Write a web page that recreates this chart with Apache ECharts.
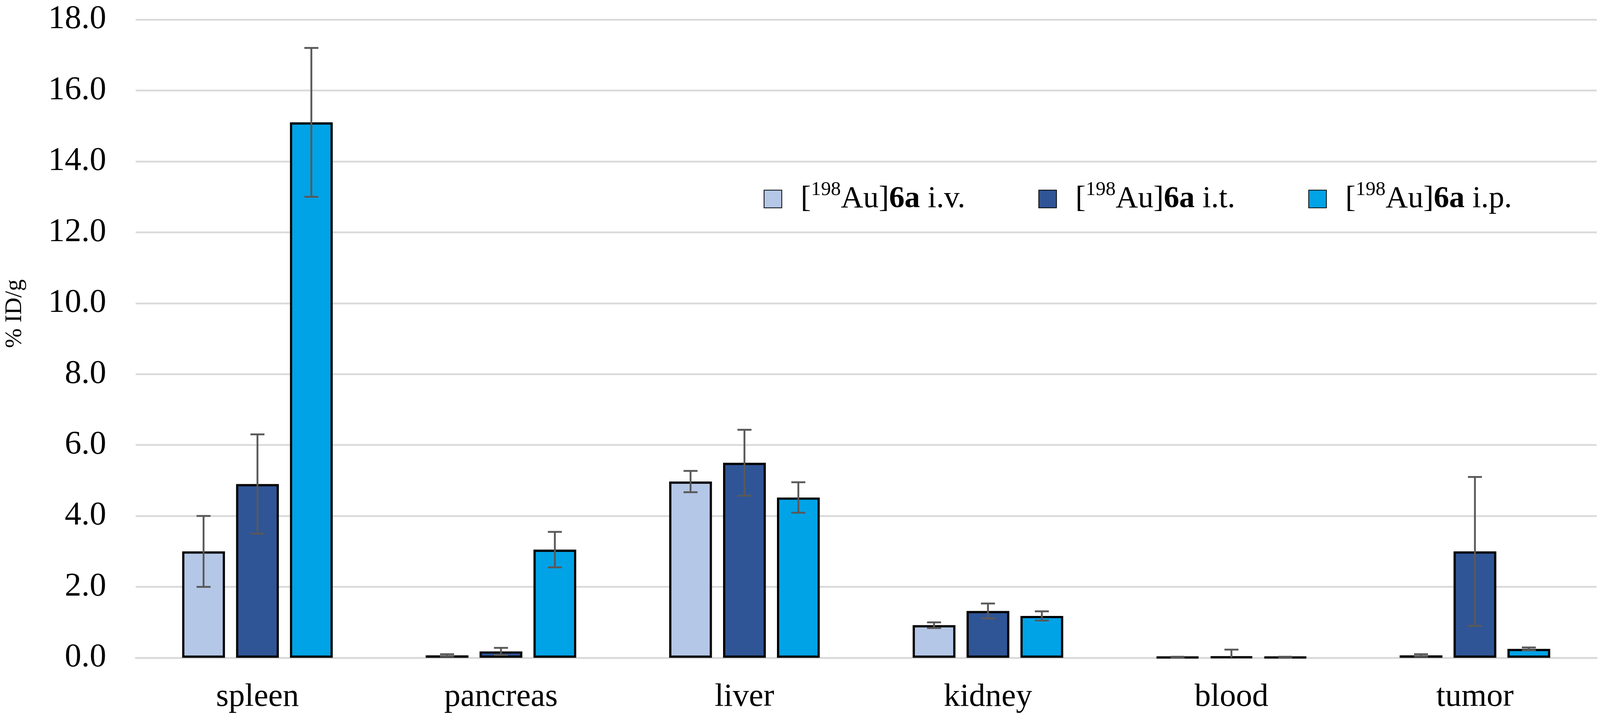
<!DOCTYPE html>
<html><head><meta charset="utf-8">
<script src="https://cdn.jsdelivr.net/npm/echarts@6/dist/echarts.min.js"></script>
<style>html,body{margin:0;padding:0;background:#fff;overflow:hidden;width:100%;height:100%}#c{width:100vw;height:100vh}</style>
</head><body><div id="c"></div>
<script>
// ---- data ----
const categories = ['spleen', 'pancreas', 'liver', 'kidney', 'blood', 'tumor'];
const seriesNames = ['[198Au]6a i.v.', '[198Au]6a i.t.', '[198Au]6a i.p.'];
const ivValues = [3.0, 0.07, 4.97, 0.92, 0.02, 0.07];
const ivErrors = [1.0, 0.03, 0.30, 0.08, 0.01, 0.03];
const itValues = [4.9, 0.18, 5.5, 1.32, 0.03, 3.0];
const itErrors = [1.4, 0.10, 0.93, 0.21, 0.20, 2.1];
const ipValues = [15.1, 3.05, 4.52, 1.18, 0.02, 0.25];
const ipErrors = [2.1, 0.50, 0.43, 0.13, 0.01, 0.04];
const yMin = 0, yMax = 18, yStep = 2;

// ---- layout scale (reference is 4339 x 1855) ----
const W = window.innerWidth || 4339, H = window.innerHeight || 1855;
const s = W / 4339, sy = H / 1855;

// ---- style ----
const FONT = 'Liberation Serif';
const colors = ['#B4C7E7', '#2F5597', '#00A3E6'];
const BW = 116 * s, GAP_RATIO = 0.26;
const OFFSETS = [-(BW * (1 + GAP_RATIO)), 0, BW * (1 + GAP_RATIO)];

const valueSets = [ivValues, itValues, ipValues];
const errorSets = [ivErrors, itErrors, ipErrors];

const barSeries = valueSets.map((vals, k) => ({
  type: 'bar', name: seriesNames[k], data: vals,
  barWidth: BW, barGap: (GAP_RATIO * 100) + '%',
  itemStyle: { color: colors[k], borderColor: '#000', borderWidth: 6 * s },
  silent: true, z: 2
}));

const errSeries = valueSets.map((vals, k) => ({
  type: 'custom', name: 'err' + k,
  data: vals.map((v, i) => [i, v, errorSets[k][i]]),
  encode: { x: 0, y: 1 }, z: 10, silent: true,
  renderItem(params, api) {
    const i = api.value(0), v = api.value(1), e = api.value(2);
    const hi = api.coord([i, v + e]);
    const loVal = v - e;
    const lo = api.coord([i, Math.max(loVal, 0)]);
    const x = hi[0] + OFFSETS[k];
    const st = { stroke: '#595959', lineWidth: 5 * s };
    const cap = 19 * s;
    const ch = [
      { type: 'line', shape: { x1: x, y1: hi[1], x2: x, y2: lo[1] }, style: st },
      { type: 'line', shape: { x1: x - cap, y1: hi[1], x2: x + cap, y2: hi[1] }, style: st }
    ];
    if (loVal >= 0) ch.push({ type: 'line', shape: { x1: x - cap, y1: lo[1], x2: x + cap, y2: lo[1] }, style: st });
    return { type: 'group', children: ch };
  }
}));

function legendFmt(name) {
  const m = name.match(/^\[198Au\]6a (.*)$/);
  return '{sp|}[{sup|198}Au]{b|6a} ' + m[1];
}
const FS = 90 * s;
const LFS = 84 * s;
const legendLefts = [2071, 2816, 3548];
const legends = seriesNames.map((n, k) => ({
  data: [n], left: legendLefts[k] * s, top: 460 * sy, orient: 'horizontal',
  itemWidth: 48 * s, itemHeight: 48 * s, icon: 'rect', selectedMode: false, padding: 0,
  formatter: legendFmt,
  textStyle: {
    fontFamily: FONT, fontSize: LFS, color: '#000', lineHeight: 104 * s,
    rich: {
      sp: { width: 46 * s },
      sup: { fontFamily: FONT, fontSize: 54 * s, lineHeight: 68 * s, verticalAlign: 'top', color: '#000' },
      b: { fontFamily: FONT, fontSize: LFS, fontWeight: 'bold', color: '#000' }
    }
  }
}));

const chart = echarts.init(document.getElementById('c'), null, { renderer: 'canvas', width: W, height: H });
chart.setOption({
  backgroundColor: '#fff',
  animation: false,
  legend: legends,
  grid: { left: 348 * s, right: 9 * s, top: 50 * sy, bottom: 172 * sy, containLabel: false },
  xAxis: {
    type: 'category', data: categories,
    axisLine: { lineStyle: { color: '#D9D9D9', width: 5 * s } },
    axisTick: { show: false },
    axisLabel: { fontFamily: FONT, fontSize: 88 * s, color: '#000', margin: 60 * sy }
  },
  yAxis: {
    type: 'value', min: yMin, max: yMax, interval: yStep,
    name: '% ID/g', nameLocation: 'middle', nameGap: 296 * s, nameRotate: 90,
    nameTextStyle: { fontFamily: FONT, fontSize: 64 * s, color: '#000', padding: [0, 0, 0, 128 * sy] },
    axisLine: { show: false }, axisTick: { show: false },
    splitLine: { lineStyle: { color: '#D9D9D9', width: 5 * s } },
    axisLabel: { fontFamily: FONT, fontSize: FS, color: '#000', margin: 80 * s, formatter: v => v.toFixed(1) }
  },
  series: [...barSeries, ...errSeries]
});
</script></body></html>
